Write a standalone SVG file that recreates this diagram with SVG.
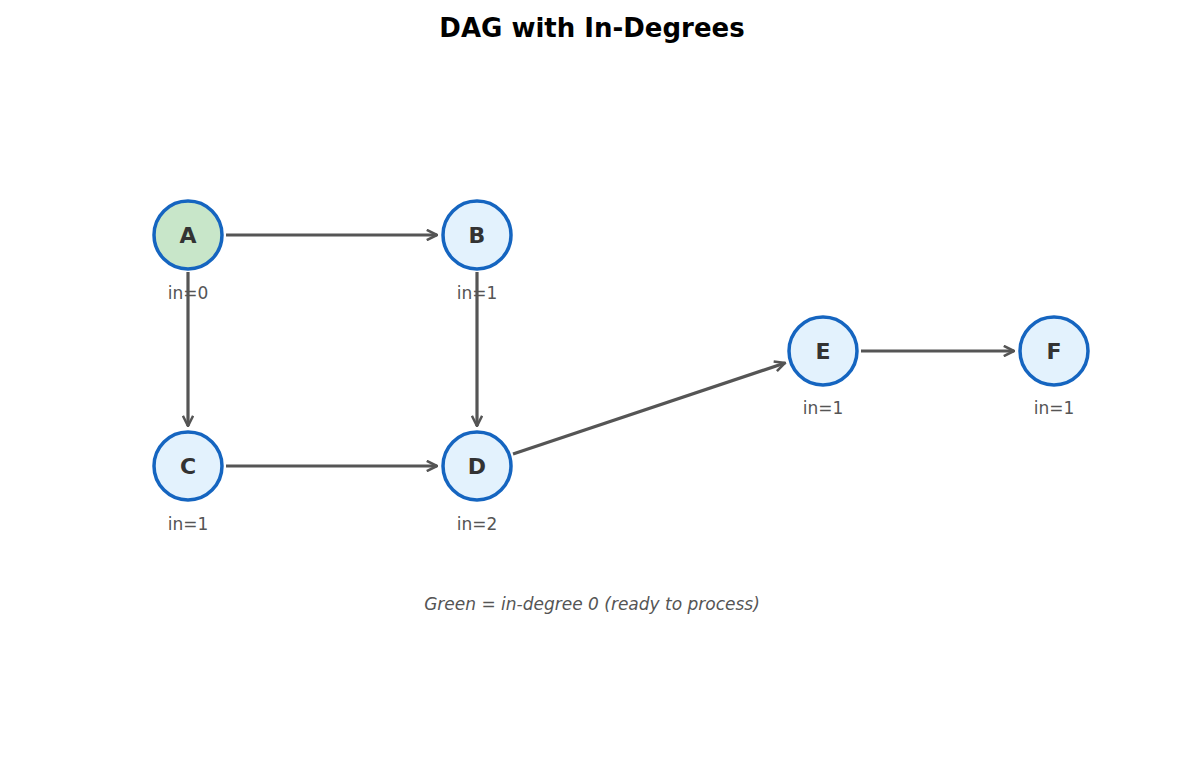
<svg xmlns="http://www.w3.org/2000/svg" width="1185" height="770" viewBox="0 0 1185 770">
<style>
.e{stroke:#555;stroke-width:3.2;fill:none;marker-end:url(#ar)}
.n{fill:#e3f2fd;stroke:#1565c0;stroke-width:3.5}
.l{font-family:"DejaVu Sans",sans-serif;font-size:22px;font-weight:bold;fill:#333;text-anchor:middle}
.d{font-family:"DejaVu Sans",sans-serif;font-size:17px;fill:#555;text-anchor:middle}
</style>
<defs><marker id="ar" viewBox="0 0 10 10" refX="9" refY="5" markerWidth="4" markerHeight="4" orient="auto" markerUnits="strokeWidth"><path d="M1,1 L9,5 L1,9" fill="none" stroke="#555" stroke-width="2"/></marker></defs>
<rect width="1185" height="770" fill="#fff"/>
<text x="592" y="37" font-family="DejaVu Sans,sans-serif" font-size="26" font-weight="bold" text-anchor="middle">DAG with In-Degrees</text>
<g id="edges">
<path class="e" d="M226,235 H437"/>
<path class="e" d="M188,272 V426"/>
<path class="e" d="M477,272 V426"/>
<path class="e" d="M226,466 H437"/>
<path class="e" d="M513,454 L785,363"/>
<path class="e" d="M861,351 H1014"/>
</g>
<g id="A"><circle class="n" cx="188" cy="235" r="34" fill="#c8e6c9" style="fill:#c8e6c9"/><text class="l" x="188" y="243">A</text><text class="d" x="188" y="299">in=0</text></g>
<g id="B"><circle class="n" cx="477" cy="235" r="34"/><text class="l" x="477" y="243">B</text><text class="d" x="477" y="299">in=1</text></g>
<g id="C"><circle class="n" cx="188" cy="466" r="34"/><text class="l" x="188" y="474">C</text><text class="d" x="188" y="530">in=1</text></g>
<g id="D"><circle class="n" cx="477" cy="466" r="34"/><text class="l" x="477" y="474">D</text><text class="d" x="477" y="530">in=2</text></g>
<g id="E"><circle class="n" cx="823" cy="351" r="34"/><text class="l" x="823" y="359">E</text><text class="d" x="823" y="414">in=1</text></g>
<g id="F"><circle class="n" cx="1054" cy="351" r="34"/><text class="l" x="1054" y="359">F</text><text class="d" x="1054" y="414">in=1</text></g>
<text class="d" x="592" y="610" font-style="italic">Green = in-degree 0 (ready to process)</text>
</svg>
